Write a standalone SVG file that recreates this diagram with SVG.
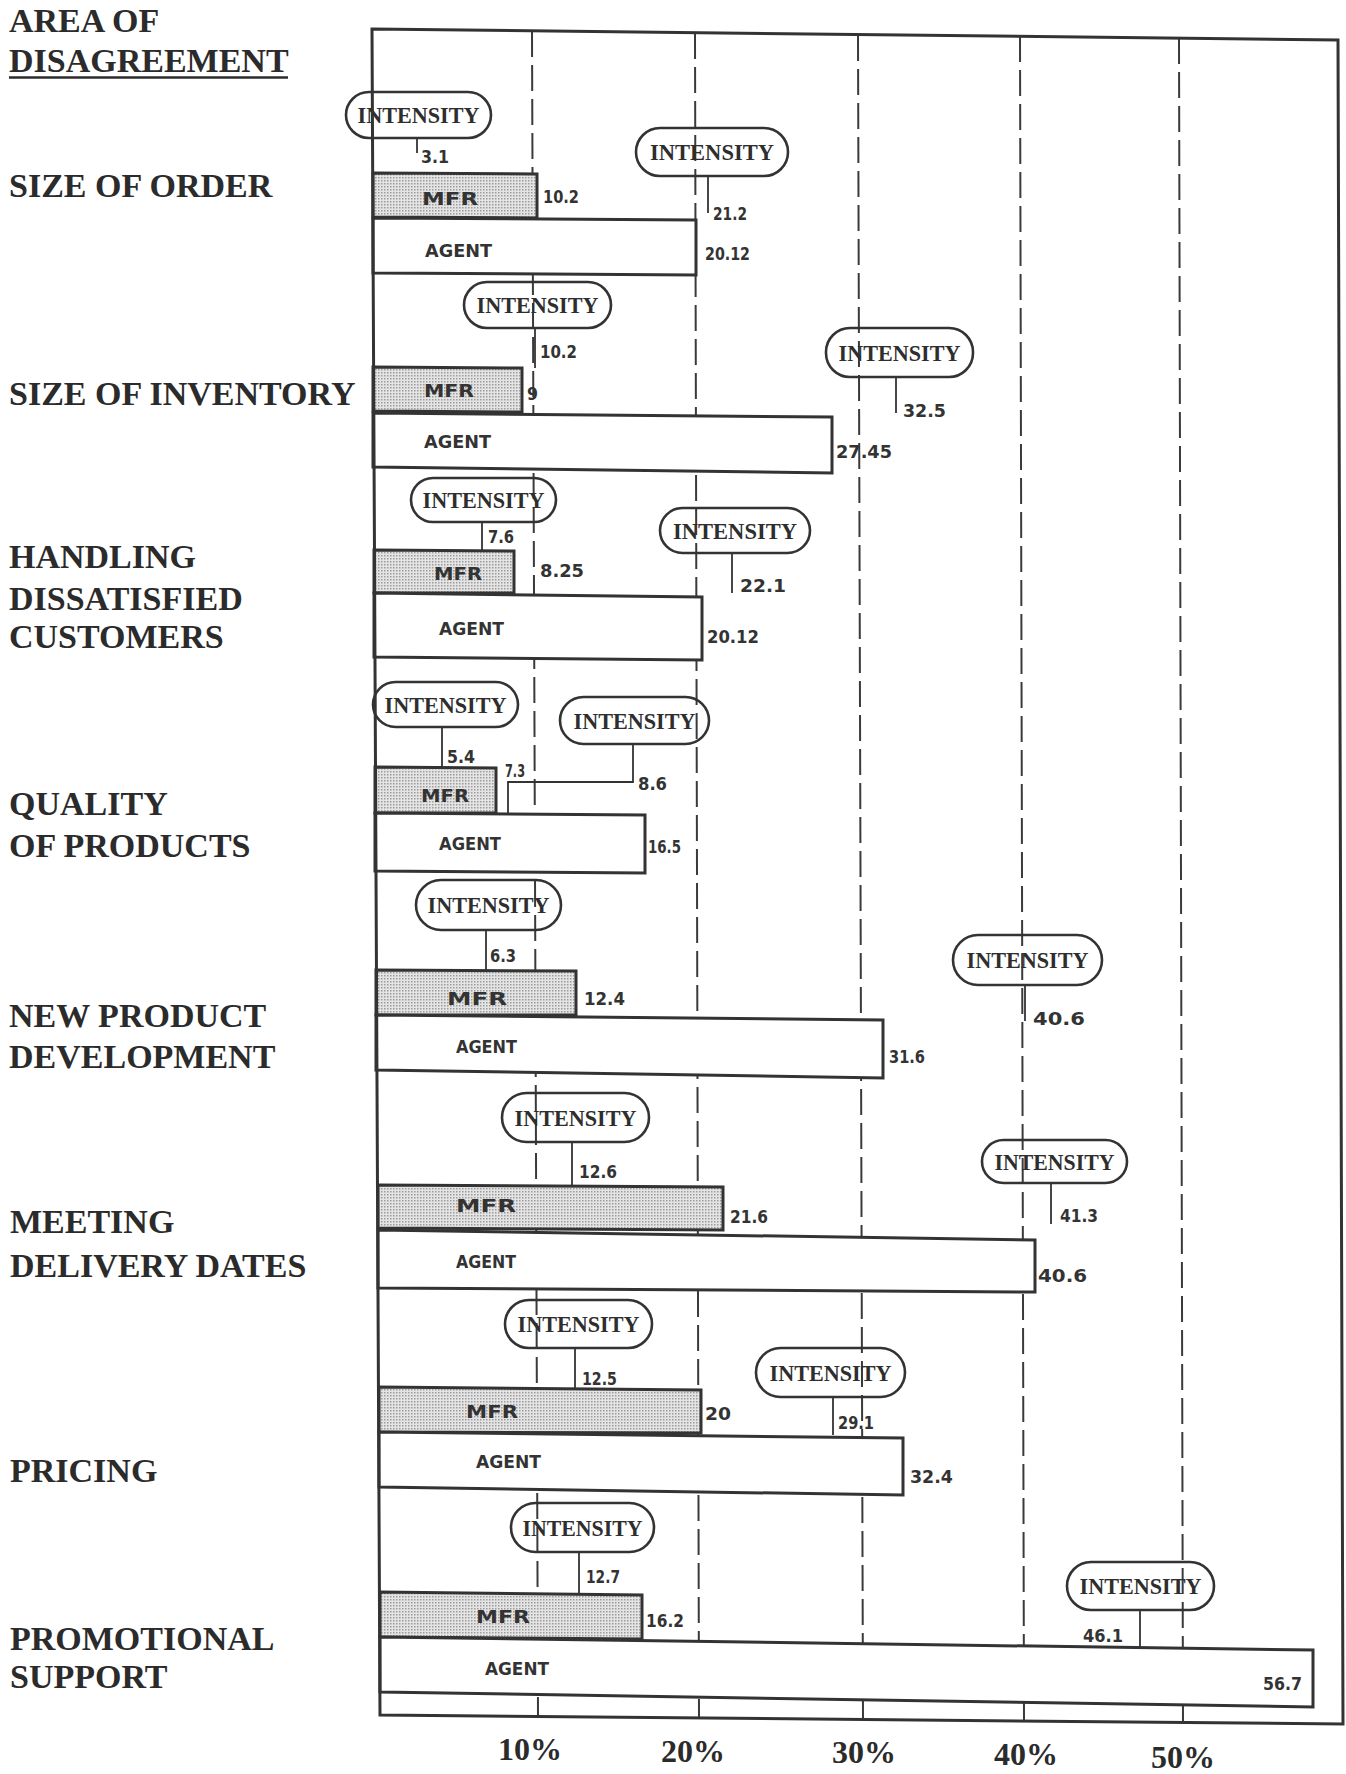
<svg xmlns="http://www.w3.org/2000/svg" width="1346" height="1774" viewBox="0 0 1346 1774">
  <defs>
    <!-- stippled fill used for the manufacturer bars -->
    <pattern id="dots" width="3" height="3" patternUnits="userSpaceOnUse">
      <rect width="3" height="3" fill="#e4e4e4"/>
      <rect x="0" y="0" width="1.5" height="1.5" fill="#9c9c9c"/>
    </pattern>
    <style>
      .lbl { font-family: "Liberation Serif", "Times New Roman", serif; font-weight: bold; font-size: 34px; fill: #2b2b2b; }
      .ax { font-family: "Liberation Serif", "Times New Roman", serif; font-weight: bold; font-size: 32px; fill: #2b2b2b; text-anchor: middle; }
      .badge { fill: none; stroke: #333; stroke-width: 2.6; }
      .badge-t { font-family: "Liberation Serif", "Times New Roman", serif; font-weight: bold; font-size: 23px; fill: #2e2e2e; text-anchor: middle; }
      .hand { font-family: "DejaVu Sans Condensed", "DejaVu Sans", sans-serif; font-weight: bold; font-size: 17px; fill: #333; }
      .bar { stroke: #333; stroke-width: 3; stroke-linejoin: miter; }
      .mfr { fill: url(#dots); }
      .agent { fill: #fff; }
      .grid { stroke: #3a3a3a; stroke-width: 2; stroke-dasharray: 26 8; fill: none; }
      .lead { stroke: #333; stroke-width: 1.8; fill: none; }
      .frame { fill: none; stroke: #333; stroke-width: 3; }
    </style>
  </defs>

  <rect width="1346" height="1774" fill="#fff"/>

  <!-- heading -->
  <g id="heading">
    <text class="lbl" x="9" y="32">AREA OF</text>
    <text class="lbl" x="9" y="72">DISAGREEMENT</text>
    <line x1="9" y1="77.5" x2="288" y2="77.5" stroke="#2b2b2b" stroke-width="2.5"/>
  </g>

  <!-- category names -->
  <g id="categories">
    <text class="lbl" x="9" y="197">SIZE OF ORDER</text>
    <text class="lbl" x="9" y="405">SIZE OF INVENTORY</text>
    <text class="lbl" x="9" y="568">HANDLING</text>
    <text class="lbl" x="9" y="610">DISSATISFIED</text>
    <text class="lbl" x="9" y="648">CUSTOMERS</text>
    <text class="lbl" x="9" y="815">QUALITY</text>
    <text class="lbl" x="9" y="857">OF PRODUCTS</text>
    <text class="lbl" x="9" y="1027">NEW PRODUCT</text>
    <text class="lbl" x="9" y="1068">DEVELOPMENT</text>
    <text class="lbl" x="10" y="1233">MEETING</text>
    <text class="lbl" x="10" y="1277">DELIVERY DATES</text>
    <text class="lbl" x="10" y="1482">PRICING</text>
    <text class="lbl" x="10" y="1650">PROMOTIONAL</text>
    <text class="lbl" x="10" y="1688">SUPPORT</text>
  </g>

  <!-- dashed percentage gridlines -->
  <g id="gridlines">
    <line class="grid" x1="532" y1="31" x2="538" y2="1716"/>
    <line class="grid" x1="695" y1="33" x2="699" y2="1718"/>
    <line class="grid" x1="858" y1="35" x2="863" y2="1719"/>
    <line class="grid" x1="1020" y1="36" x2="1024" y2="1721"/>
    <line class="grid" x1="1179" y1="38" x2="1183" y2="1722"/>
  </g>

  <!-- axis scale -->
  <g id="axis">
    <text class="ax" x="530" y="1760">10%</text>
    <text class="ax" x="693" y="1762">20%</text>
    <text class="ax" x="864" y="1763">30%</text>
    <text class="ax" x="1026" y="1765">40%</text>
    <text class="ax" x="1183" y="1768">50%</text>
  </g>

  <!-- SIZE OF ORDER -->
  <g id="size-of-order">
    <g id="order-mfr">
      <polygon class="bar mfr" points="373,173 537,174 537,218 373,217"/>
      <text class="hand" x="422" y="205" textLength="56" lengthAdjust="spacingAndGlyphs">MFR</text>
      <text class="hand" x="543" y="203" textLength="36" lengthAdjust="spacingAndGlyphs">10.2</text>
    </g>
    <g id="order-agent">
      <polygon class="bar agent" points="373,218 696,220 696,275 373,273"/>
      <text class="hand" x="425" y="257" textLength="67" lengthAdjust="spacingAndGlyphs">AGENT</text>
      <text class="hand" x="705" y="260" textLength="45" lengthAdjust="spacingAndGlyphs">20.12</text>
    </g>
    <g id="order-int-mfr">
      <rect class="badge" x="346" y="92" width="145" height="46" rx="23"/>
      <text class="badge-t" x="418.5" y="123" textLength="122" lengthAdjust="spacingAndGlyphs">INTENSITY</text>
      <text class="hand" x="421" y="163" textLength="28" lengthAdjust="spacingAndGlyphs">3.1</text>
    </g>
    <g id="order-int-agent">
      <rect class="badge" x="636" y="128" width="152" height="48" rx="24"/>
      <text class="badge-t" x="712" y="160" textLength="124" lengthAdjust="spacingAndGlyphs">INTENSITY</text>
      <text class="hand" x="713" y="220" textLength="34" lengthAdjust="spacingAndGlyphs">21.2</text>
    </g>
  </g>

  <!-- SIZE OF INVENTORY -->
  <g id="size-of-inventory">
    <g id="inventory-mfr">
      <polygon class="bar mfr" points="373,367 522,368 522,412 373,411"/>
      <text class="hand" x="424" y="397" textLength="50" lengthAdjust="spacingAndGlyphs">MFR</text>
      <text class="hand" x="527" y="400" textLength="11" lengthAdjust="spacingAndGlyphs">9</text>
    </g>
    <g id="inventory-agent">
      <polygon class="bar agent" points="373,413 832,417 832,473 373,467"/>
      <text class="hand" x="424" y="448" textLength="67" lengthAdjust="spacingAndGlyphs">AGENT</text>
      <text class="hand" x="836" y="458" textLength="56" lengthAdjust="spacingAndGlyphs">27.45</text>
    </g>
    <g id="inventory-int-mfr">
      <rect class="badge" x="464" y="282" width="147" height="46" rx="23"/>
      <text class="badge-t" x="537.5" y="313" textLength="122" lengthAdjust="spacingAndGlyphs">INTENSITY</text>
      <text class="hand" x="540" y="358" textLength="37" lengthAdjust="spacingAndGlyphs">10.2</text>
    </g>
    <g id="inventory-int-agent">
      <rect class="badge" x="826" y="328" width="147" height="49" rx="24"/>
      <text class="badge-t" x="899.5" y="361" textLength="122" lengthAdjust="spacingAndGlyphs">INTENSITY</text>
      <text class="hand" x="903" y="417" textLength="43" lengthAdjust="spacingAndGlyphs">32.5</text>
    </g>
  </g>

  <!-- HANDLING DISSATISFIED CUSTOMERS -->
  <g id="handling-customers">
    <g id="handling-mfr">
      <polygon class="bar mfr" points="374,550 514,551 514,593 374,593"/>
      <text class="hand" x="434" y="580" textLength="48" lengthAdjust="spacingAndGlyphs">MFR</text>
      <text class="hand" x="540" y="577" textLength="44" lengthAdjust="spacingAndGlyphs">8.25</text>
    </g>
    <g id="handling-agent">
      <polygon class="bar agent" points="374,593 702,597 702,660 374,657"/>
      <text class="hand" x="439" y="635" textLength="65" lengthAdjust="spacingAndGlyphs">AGENT</text>
      <text class="hand" x="707" y="643" textLength="52" lengthAdjust="spacingAndGlyphs">20.12</text>
    </g>
    <g id="handling-int-mfr">
      <rect class="badge" x="411" y="478" width="145" height="44" rx="22"/>
      <text class="badge-t" x="483.5" y="508" textLength="122" lengthAdjust="spacingAndGlyphs">INTENSITY</text>
      <text class="hand" x="488" y="543" textLength="26" lengthAdjust="spacingAndGlyphs">7.6</text>
    </g>
    <g id="handling-int-agent">
      <rect class="badge" x="660" y="508" width="150" height="45" rx="22.5"/>
      <text class="badge-t" x="735" y="539" textLength="124" lengthAdjust="spacingAndGlyphs">INTENSITY</text>
      <text class="hand" x="740" y="592" textLength="46" lengthAdjust="spacingAndGlyphs">22.1</text>
    </g>
  </g>

  <!-- QUALITY OF PRODUCTS -->
  <g id="quality-of-products">
    <g id="quality-mfr">
      <polygon class="bar mfr" points="375,767 496,768 496,813 375,813"/>
      <text class="hand" x="421" y="802" textLength="48" lengthAdjust="spacingAndGlyphs">MFR</text>
      <text class="hand" x="505" y="777" textLength="20" lengthAdjust="spacingAndGlyphs">7.3</text>
    </g>
    <g id="quality-agent">
      <polygon class="bar agent" points="375,813 645,815 645,873 375,871"/>
      <text class="hand" x="439" y="850" textLength="62" lengthAdjust="spacingAndGlyphs">AGENT</text>
      <text class="hand" x="648" y="853" textLength="33" lengthAdjust="spacingAndGlyphs">16.5</text>
    </g>
    <g id="quality-int-mfr">
      <rect class="badge" x="373" y="682" width="145" height="45" rx="22.5"/>
      <text class="badge-t" x="445.5" y="713" textLength="122" lengthAdjust="spacingAndGlyphs">INTENSITY</text>
      <text class="hand" x="447" y="763" textLength="28" lengthAdjust="spacingAndGlyphs">5.4</text>
    </g>
    <g id="quality-int-agent">
      <rect class="badge" x="560" y="697" width="149" height="47" rx="23.5"/>
      <text class="badge-t" x="634.5" y="729" textLength="122" lengthAdjust="spacingAndGlyphs">INTENSITY</text>
      <text class="hand" x="638" y="790" textLength="29" lengthAdjust="spacingAndGlyphs">8.6</text>
    </g>
  </g>

  <!-- NEW PRODUCT DEVELOPMENT -->
  <g id="new-product-development">
    <g id="development-mfr">
      <polygon class="bar mfr" points="376,970 576,971 576,1015 376,1015"/>
      <text class="hand" x="447" y="1005" textLength="60" lengthAdjust="spacingAndGlyphs">MFR</text>
      <text class="hand" x="584" y="1005" textLength="41" lengthAdjust="spacingAndGlyphs">12.4</text>
    </g>
    <g id="development-agent">
      <polygon class="bar agent" points="376,1015 883,1020 883,1078 376,1070"/>
      <text class="hand" x="456" y="1053" textLength="61" lengthAdjust="spacingAndGlyphs">AGENT</text>
      <text class="hand" x="889" y="1063" textLength="36" lengthAdjust="spacingAndGlyphs">31.6</text>
    </g>
    <g id="development-int-mfr">
      <rect class="badge" x="416" y="880" width="145" height="50" rx="25"/>
      <text class="badge-t" x="488.5" y="913" textLength="122" lengthAdjust="spacingAndGlyphs">INTENSITY</text>
      <text class="hand" x="490" y="962" textLength="26" lengthAdjust="spacingAndGlyphs">6.3</text>
    </g>
    <g id="development-int-agent">
      <rect class="badge" x="953" y="935" width="149" height="50" rx="25"/>
      <text class="badge-t" x="1027.5" y="968" textLength="122" lengthAdjust="spacingAndGlyphs">INTENSITY</text>
      <text class="hand" x="1033" y="1025" textLength="52" lengthAdjust="spacingAndGlyphs">40.6</text>
    </g>
  </g>

  <!-- MEETING DELIVERY DATES -->
  <g id="meeting-delivery-dates">
    <g id="delivery-mfr">
      <polygon class="bar mfr" points="378,1185 723,1187 723,1230 378,1228"/>
      <text class="hand" x="456" y="1212" textLength="60" lengthAdjust="spacingAndGlyphs">MFR</text>
      <text class="hand" x="730" y="1223" textLength="38" lengthAdjust="spacingAndGlyphs">21.6</text>
    </g>
    <g id="delivery-agent">
      <polygon class="bar agent" points="378,1230 1035,1240 1035,1292 378,1288"/>
      <text class="hand" x="456" y="1268" textLength="60" lengthAdjust="spacingAndGlyphs">AGENT</text>
      <text class="hand" x="1038" y="1282" textLength="49" lengthAdjust="spacingAndGlyphs">40.6</text>
    </g>
    <g id="delivery-int-mfr">
      <rect class="badge" x="502" y="1093" width="147" height="49" rx="24.5"/>
      <text class="badge-t" x="575.5" y="1126" textLength="122" lengthAdjust="spacingAndGlyphs">INTENSITY</text>
      <text class="hand" x="579" y="1178" textLength="38" lengthAdjust="spacingAndGlyphs">12.6</text>
    </g>
    <g id="delivery-int-agent">
      <rect class="badge" x="982" y="1140" width="145" height="43" rx="21.5"/>
      <text class="badge-t" x="1054.5" y="1170" textLength="120" lengthAdjust="spacingAndGlyphs">INTENSITY</text>
      <text class="hand" x="1060" y="1222" textLength="38" lengthAdjust="spacingAndGlyphs">41.3</text>
    </g>
  </g>

  <!-- PRICING -->
  <g id="pricing">
    <g id="pricing-mfr">
      <polygon class="bar mfr" points="379,1387 701,1390 701,1433 379,1432"/>
      <text class="hand" x="466" y="1418" textLength="52" lengthAdjust="spacingAndGlyphs">MFR</text>
      <text class="hand" x="705" y="1420" textLength="26" lengthAdjust="spacingAndGlyphs">20</text>
    </g>
    <g id="pricing-agent">
      <polygon class="bar agent" points="379,1432 903,1438 903,1495 379,1487"/>
      <text class="hand" x="476" y="1468" textLength="65" lengthAdjust="spacingAndGlyphs">AGENT</text>
      <text class="hand" x="910" y="1483" textLength="43" lengthAdjust="spacingAndGlyphs">32.4</text>
    </g>
    <g id="pricing-int-mfr">
      <rect class="badge" x="505" y="1300" width="147" height="48" rx="24"/>
      <text class="badge-t" x="578.5" y="1332" textLength="122" lengthAdjust="spacingAndGlyphs">INTENSITY</text>
      <text class="hand" x="582" y="1385" textLength="35" lengthAdjust="spacingAndGlyphs">12.5</text>
    </g>
    <g id="pricing-int-agent">
      <rect class="badge" x="756" y="1348" width="149" height="49" rx="24.5"/>
      <text class="badge-t" x="830.5" y="1381" textLength="122" lengthAdjust="spacingAndGlyphs">INTENSITY</text>
      <text class="hand" x="838" y="1429" textLength="36" lengthAdjust="spacingAndGlyphs">29.1</text>
    </g>
  </g>

  <!-- PROMOTIONAL SUPPORT -->
  <g id="promotional-support">
    <g id="promotion-mfr">
      <polygon class="bar mfr" points="380,1592 642,1595 642,1639 380,1637"/>
      <text class="hand" x="476" y="1623" textLength="54" lengthAdjust="spacingAndGlyphs">MFR</text>
      <text class="hand" x="646" y="1627" textLength="38" lengthAdjust="spacingAndGlyphs">16.2</text>
    </g>
    <g id="promotion-agent">
      <polygon class="bar agent" points="380,1637 1313,1650 1313,1707 380,1692"/>
      <text class="hand" x="485" y="1675" textLength="64" lengthAdjust="spacingAndGlyphs">AGENT</text>
      <text class="hand" x="1263" y="1690" textLength="39" lengthAdjust="spacingAndGlyphs">56.7</text>
    </g>
    <g id="promotion-int-mfr">
      <rect class="badge" x="511" y="1503" width="143" height="49" rx="24.5"/>
      <text class="badge-t" x="582.5" y="1536" textLength="120" lengthAdjust="spacingAndGlyphs">INTENSITY</text>
      <text class="hand" x="586" y="1583" textLength="34" lengthAdjust="spacingAndGlyphs">12.7</text>
    </g>
    <g id="promotion-int-agent">
      <rect class="badge" x="1067" y="1562" width="147" height="48" rx="24"/>
      <text class="badge-t" x="1140.5" y="1594" textLength="122" lengthAdjust="spacingAndGlyphs">INTENSITY</text>
      <text class="hand" x="1083" y="1642" textLength="40" lengthAdjust="spacingAndGlyphs">46.1</text>
    </g>
  </g>

  <!-- chart border -->
  <polygon id="frame" class="frame" points="372,29 1338,40 1343,1724 380,1715"/>

  <!-- leader lines from intensity badges to their values -->
  <g id="connectors">
    <line class="lead" x1="417" y1="138" x2="417" y2="153"/>
    <line class="lead" x1="708" y1="176" x2="708" y2="213"/>
    <line class="lead" x1="535" y1="328" x2="535" y2="368"/>
    <line class="lead" x1="896" y1="377" x2="896" y2="413"/>
    <line class="lead" x1="482" y1="522" x2="482" y2="552"/>
    <line class="lead" x1="732" y1="553" x2="732" y2="593"/>
    <line class="lead" x1="442" y1="727" x2="442" y2="767"/>
    <polyline class="lead" points="633,744 633,782 508,782 508,813"/>
    <line class="lead" x1="486" y1="930" x2="486" y2="970"/>
    <line class="lead" x1="1025" y1="985" x2="1025" y2="1021"/>
    <line class="lead" x1="572" y1="1142" x2="572" y2="1185"/>
    <line class="lead" x1="1051" y1="1183" x2="1051" y2="1224"/>
    <line class="lead" x1="575" y1="1348" x2="575" y2="1388"/>
    <line class="lead" x1="833" y1="1397" x2="833" y2="1435"/>
    <line class="lead" x1="579" y1="1552" x2="579" y2="1593"/>
    <line class="lead" x1="1140" y1="1610" x2="1140" y2="1648"/>
  </g>
</svg>
